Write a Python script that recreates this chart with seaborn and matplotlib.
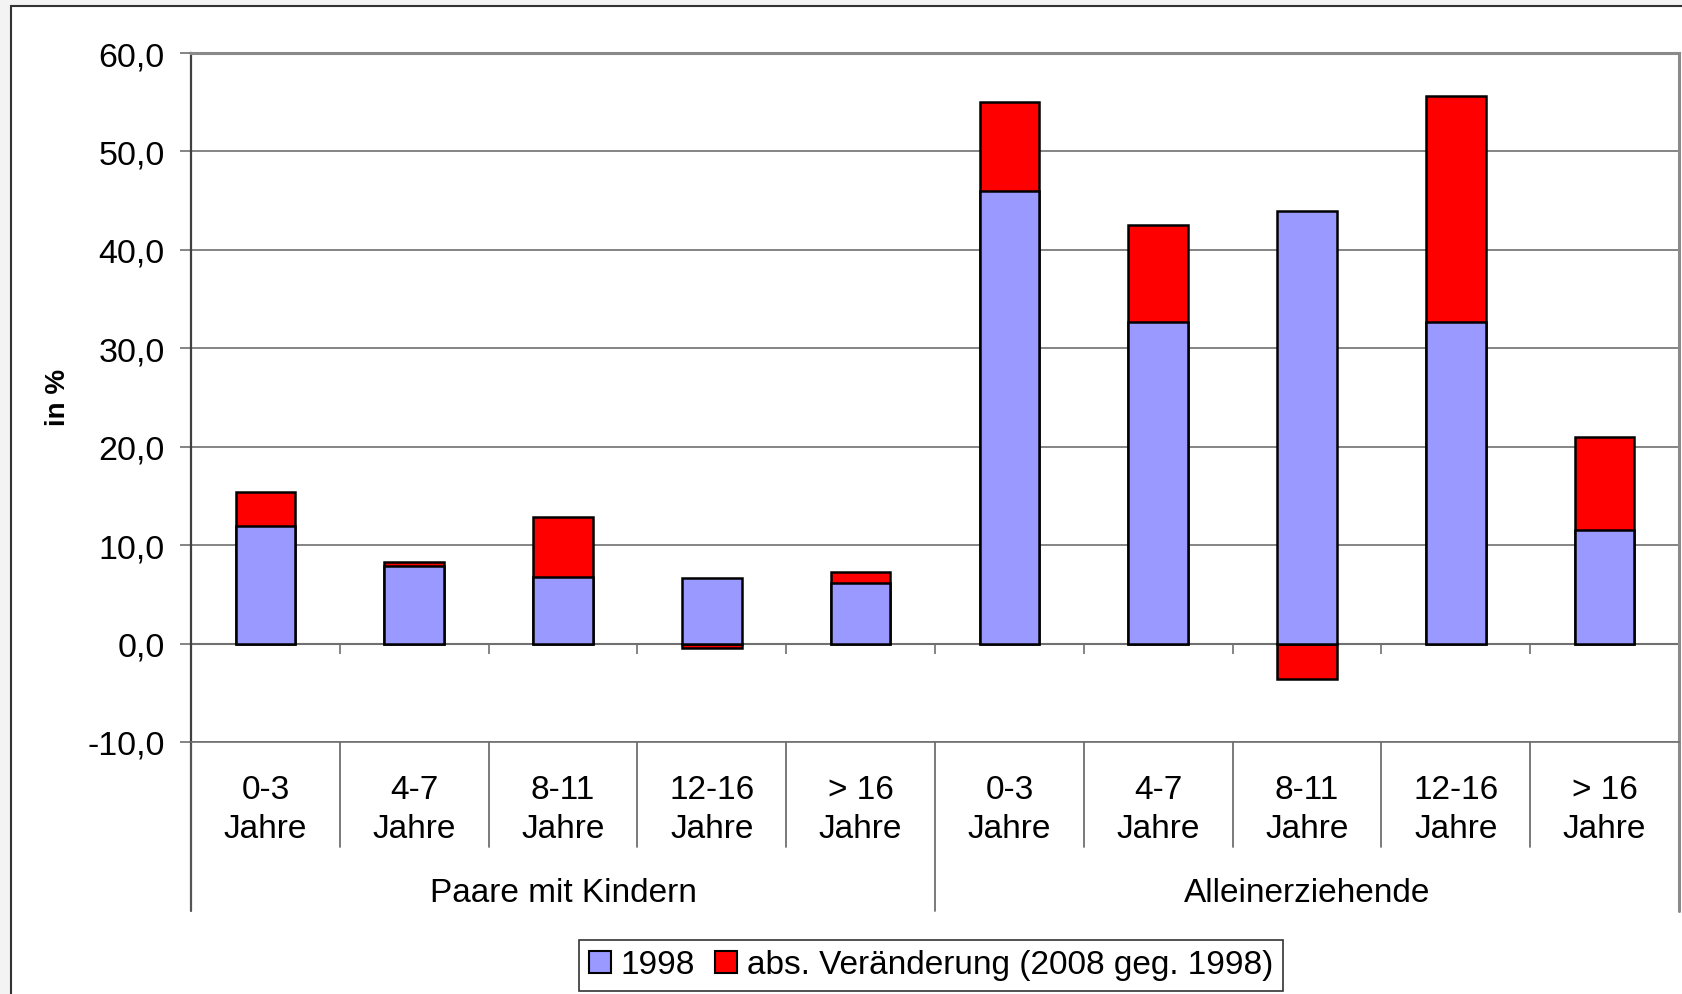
import numpy as np
import pandas as pd
import matplotlib
matplotlib.use("Agg")
import matplotlib.pyplot as plt
import seaborn as sns
from matplotlib.patches import Rectangle, Patch

# ---- data ----
groups = ["Paare mit Kindern", "Alleinerziehende"]
age_labels = ["0-3\nJahre", "4-7\nJahre", "8-11\nJahre", "12-16\nJahre", "> 16\nJahre"]
val_1998 = [11.9, 7.9, 6.8, 6.7, 6.2, 46.0, 32.7, 43.9, 32.7, 11.5]
val_change = [3.5, 0.4, 6.1, -0.4, 1.1, 9.0, 9.8, -3.6, 22.9, 9.5]
y_ticks = [-10, 0, 10, 20, 30, 40, 50, 60]
series_names = ["1998", "abs. Veränderung (2008 geg. 1998)"]

sns.set_theme(style="white")
plt.rcParams["font.family"] = ["Liberation Sans", "DejaVu Sans"]
plt.rcParams["text.color"] = "black"
plt.rcParams["axes.labelcolor"] = "black"
plt.rcParams["xtick.labelcolor"] = "black"
plt.rcParams["ytick.labelcolor"] = "black"

keys = [f"{g}|{a}" for g in groups for a in age_labels]
base = np.array(val_1998)
chg = np.array(val_change)
df = pd.DataFrame({
    "key": keys,
    "v1998": base,
    "change": chg,
})
# stacked like Excel: positive changes sit on top of 1998, negative from 0 downwards
df["red_extent"] = np.where(df["change"] >= 0, df["v1998"] + df["change"], df["change"])

W, H = 1683, 995
fig = plt.figure(figsize=(W / 100, H / 100), dpi=100)
fig.patch.set_facecolor("#f3f3f3")
frame = Rectangle((11 / W, -0.02), 1.05, 1 - 7 / H + 0.02, transform=fig.transFigure,
                  facecolor="white", edgecolor="#333333", linewidth=1.5, zorder=-10)
fig.add_artist(frame)

ax = fig.add_axes([191 / W, 1 - 743 / H, (1679 - 191) / W, (743 - 54) / H])
ax.set_facecolor("none")

RED = "#ff0000"
BLUE = "#9999ff"
sns.barplot(data=df, x="key", y="red_extent", order=keys, color=RED, saturation=1,
            edgecolor="black", linewidth=1.8, width=0.4, ax=ax, zorder=3)
sns.barplot(data=df, x="key", y="v1998", order=keys, color=BLUE, saturation=1,
            edgecolor="black", linewidth=1.8, width=0.4, ax=ax, zorder=4)

ax.set_xlim(-0.5, len(keys) - 0.5)
ax.set_ylim(-10, 60)
ax.set_yticks(y_ticks)
ax.set_yticklabels([f"{v:.1f}".replace(".", ",") for v in y_ticks], fontsize=24.5)
ax.yaxis.grid(True, color="#707070", linewidth=1.2, zorder=0)
ax.set_axisbelow(True)
ax.tick_params(axis="y", direction="out", length=8, width=1.2, color="#707070", pad=11,
               left=True, labelcolor="black")

# spines
for s in ["left", "right", "top", "bottom"]:
    ax.spines[s].set_visible(True)
ax.spines["left"].set_color("#404040")
ax.spines["left"].set_linewidth(1.6)
ax.spines["right"].set_color("#8a8a8a")
ax.spines["right"].set_linewidth(2.2)
ax.spines["top"].set_color("#8a8a8a")
ax.spines["top"].set_linewidth(2.2)
ax.spines["bottom"].set_color("#707070")
ax.spines["bottom"].set_linewidth(1.2)

# category labels
ax.set_xticks(range(len(keys)))
ax.set_xticklabels([k.split("|")[1] for k in keys], fontsize=24, linespacing=1.35)
ax.tick_params(axis="x", length=0, pad=23, labelcolor="black")
ax.set_xlabel("")

# zero axis with ticks at category boundaries
zero_frac = (0 - (-10)) / 70
sec = ax.secondary_xaxis(zero_frac)
sec.set_xticks(np.arange(0.5, len(keys), 1.0))
sec.set_xticklabels([])
sec.tick_params(direction="out", length=7, width=1.2, color="#707070")
sec.spines["bottom"].set_color("#707070")
sec.spines["bottom"].set_linewidth(1.5)
for s in ["top", "left", "right"]:
    if s in sec.spines:
        sec.spines[s].set_visible(False)

# y label
ax.set_ylabel("in %", fontsize=20, fontweight="bold", labelpad=0, color="black")
ax.yaxis.set_label_coords((71 - 191) / (1679 - 191), (743 - 397) / (743 - 54))

# separator lines below axis
trans = ax.get_xaxis_transform()
y_short = (743 - 848) / (743 - 54)
y_long = (743 - 912) / (743 - 54)
n_per = len(age_labels)
for b in np.arange(-0.5, len(keys), 1.0):
    idx = int(b + 0.5)
    if idx % n_per == 0:
        ax.plot([b, b], [0, y_long], transform=trans, color="#555555" if idx == 0 else "#707070",
                linewidth=1.6 if idx == 0 else 1.3, clip_on=False)
    else:
        ax.plot([b, b], [0, y_short], transform=trans, color="#707070", linewidth=1.3,
                clip_on=False)
ax.plot([len(keys) - 0.5] * 2, [0, y_long], transform=trans, color="#8a8a8a", linewidth=2.2,
        clip_on=False)

# group labels
y_grp = (743 - 894) / (743 - 54)
for gi, g in enumerate(groups):
    ax.text(gi * n_per + (n_per - 1) / 2, y_grp, g, transform=trans, ha="center", va="center",
            fontsize=24, color="black")

# legend
handles = [Patch(facecolor=BLUE, edgecolor="black", linewidth=1.5, label=series_names[0]),
           Patch(facecolor=RED, edgecolor="black", linewidth=1.5, label=series_names[1])]
leg = fig.legend(handles=handles, loc="center", bbox_to_anchor=(931 / W, 1 - 966 / H),
                 ncol=2, fontsize=24, frameon=True, fancybox=False, handlelength=0.65,
                 handleheight=0.65, handletextpad=0.3, columnspacing=0.6, borderpad=0.3,
                 borderaxespad=0, labelcolor="black")
leg.get_frame().set_edgecolor("black")
leg.get_frame().set_linewidth(1.2)

fig.savefig("out.png", dpi=100, facecolor=fig.get_facecolor())
